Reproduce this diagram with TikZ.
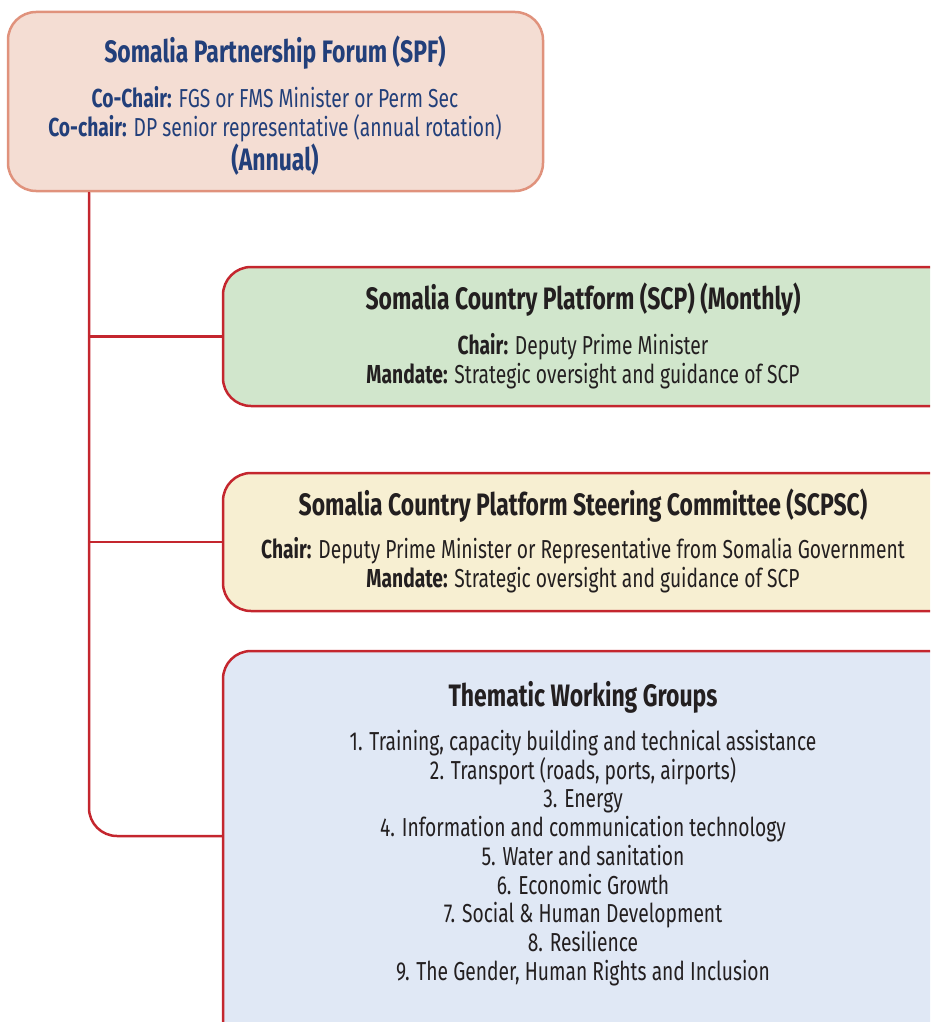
\documentclass[tikz,border=0pt]{standalone}
\usepackage{fontspec}
\setmainfont{Fira Sans}[FakeStretch=0.74]
\usepackage{xcolor}
\usepackage{tikz}
\usetikzlibrary{positioning}

\definecolor{spfline}{HTML}{E0927C}
\definecolor{spffill}{HTML}{F4DDD3}
\definecolor{boxred}{HTML}{C4262E}
\definecolor{scpfill}{HTML}{D1E6CC}
\definecolor{scpscfill}{HTML}{F7EFD2}
\definecolor{twgfill}{HTML}{E0E8F5}
\definecolor{navy}{HTML}{223F7A}
\definecolor{ink}{HTML}{231F20}

\begin{document}
\begin{tikzpicture}[x=1pt, y=-1pt,
  panel/.style={draw=boxred, line width=2.5pt, rounded corners=28pt, inner sep=0pt},
  link/.style={draw=boxred, line width=2.5pt},
  head/.style={text=ink, font=\fontsize{31}{36}\selectfont\bfseries},
  body/.style={text=ink, align=center, font=\fontsize{26}{28.75}\selectfont}]
\useasboundingbox (0,0) rectangle (930,1022);
\clip (0,0) rectangle (930,1022);

% boxes
\node[panel, draw=spfline, fill=spffill, minimum width=535pt, minimum height=179pt] (spf) at (275.5,101.5) {};
\node[panel, fill=scpfill, minimum width=745pt, minimum height=139pt] (scp) at (595.5,336.5) {};
\node[panel, fill=scpscfill, minimum width=745pt, minimum height=138pt] (scpsc) at (595.5,542) {};
\node[panel, fill=twgfill, minimum width=745pt, minimum height=400pt] (twg) at (595.5,851) {};

% connectors
\coordinate (trunk) at (89,0);
\draw[link] (spf.south -| trunk) |- (scp.west);
\draw[link] (spf.south -| trunk) |- (scpsc.west);
\draw[link, rounded corners=28pt] (spf.south -| trunk) |- ([yshift=15pt]twg.west);

% texts
\node[head, text=navy] (spftitle) at (275,53) {Somalia Partnership Forum (SPF)};
\node[body, text=navy] (spfchairs) at (275,114) {\textbf{Co-Chair:} FGS or FMS Minister or Perm Sec\\
  \textbf{Co-chair:} DP senior representative (annual rotation)};
\node[head, text=navy] (spfannual) at (275,160) {(Annual)};

\node[head] (scptitle) at (583,300) {Somalia Country Platform (SCP) (Monthly)};
\node[body] (scptext) at (583,361) {\textbf{Chair:} Deputy Prime Minister\\
  \textbf{Mandate:} Strategic oversight and guidance of SCP};

\node[head] (scpsctitle) at (583,506) {Somalia Country Platform Steering Committee (SCPSC)};
\node[body] (scpsctext) at (583,565) {\textbf{Chair:} Deputy Prime Minister or Representative from Somalia Government\\
  \textbf{Mandate:} Strategic oversight and guidance of SCP};

\node[head] (twgtitle) at (583,697) {Thematic Working Groups};
\node[body] (twglist) at (583,858) {1. Training, capacity building and technical assistance\\
  2. Transport (roads, ports, airports)\\
  3. Energy\\
  4. Information and communication technology\\
  5. Water and sanitation\\
  6. Economic Growth\\
  7. Social \& Human Development\\
  8. Resilience\\
  9. The Gender, Human Rights and Inclusion};
\end{tikzpicture}
\end{document}
